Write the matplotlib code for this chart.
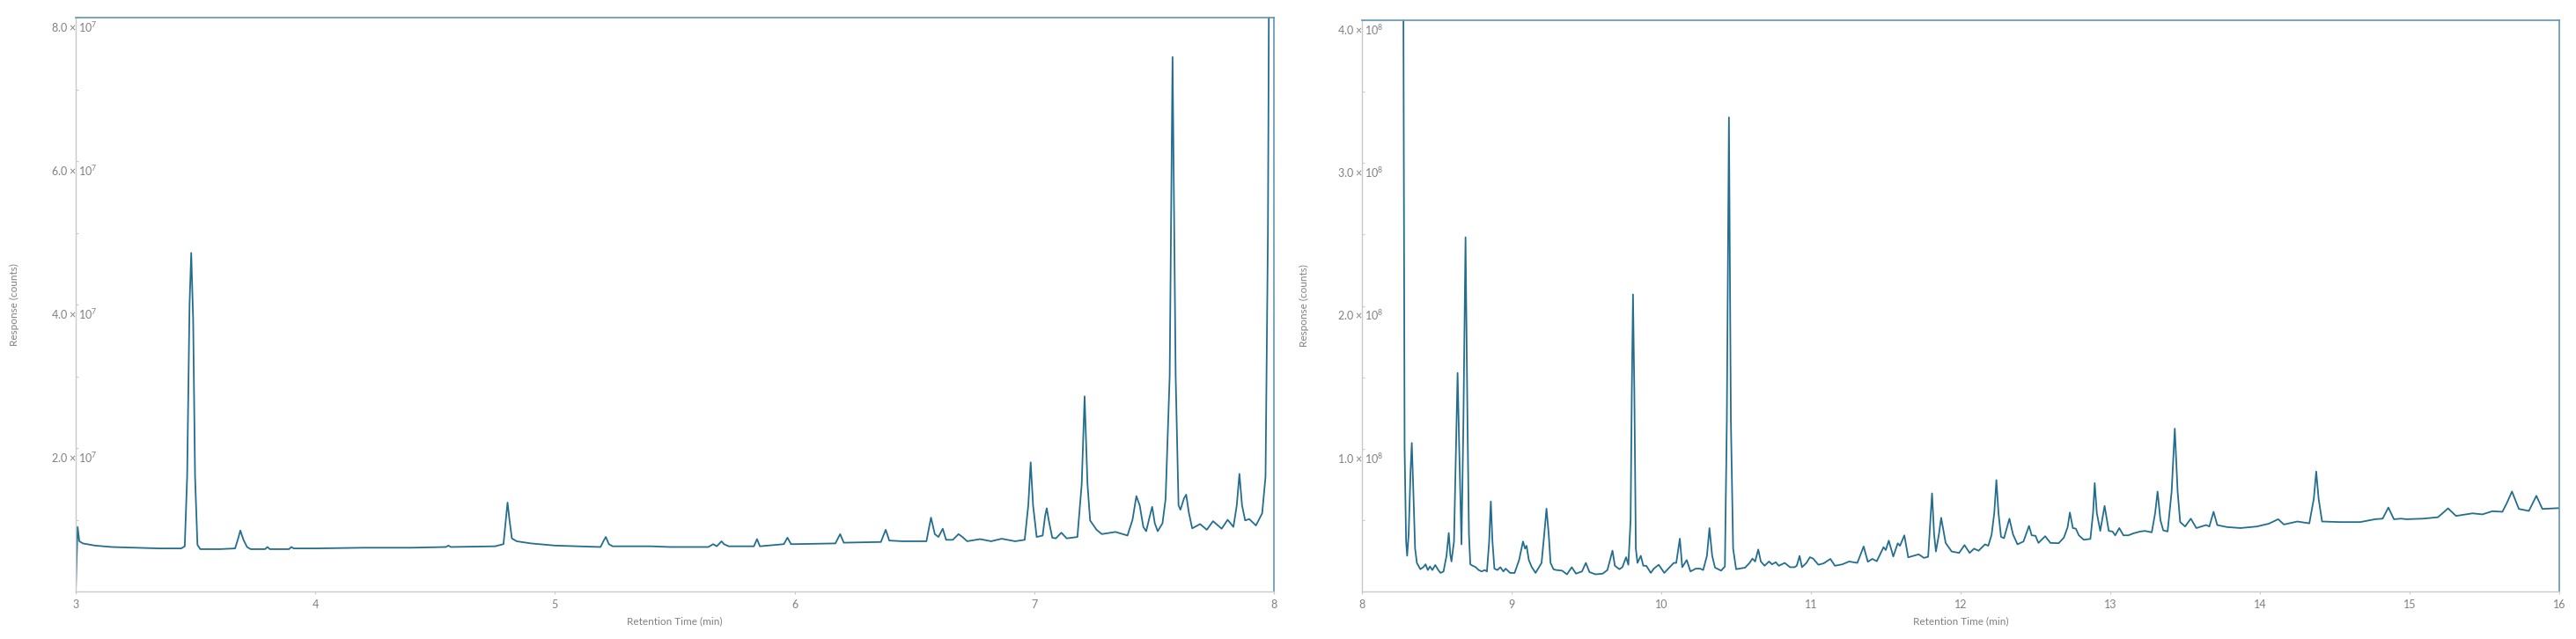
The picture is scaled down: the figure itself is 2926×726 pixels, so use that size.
import matplotlib
matplotlib.use('Agg')
import matplotlib.pyplot as plt
import matplotlib.transforms as mtransforms
import numpy as np

plt.rcParams['font.family'] = ['Lato', 'DejaVu Sans']
plt.rcParams['mathtext.fontset'] = 'custom'
plt.rcParams['mathtext.rm'] = 'Lato'
plt.rcParams['mathtext.it'] = 'Lato:italic'
plt.rcParams['mathtext.bf'] = 'Lato:bold'

# chromatogram 1 : retention time (min), response (x 1e7 counts)
left_trace = [
    (3.000, 0.00), (3.008, 0.90), (3.015, 0.70), (3.030, 0.67), (3.080, 0.64),
    (3.150, 0.62), (3.250, 0.61), (3.350, 0.60), (3.440, 0.60), (3.455, 0.63),
    (3.465, 1.60), (3.475, 4.00), (3.482, 4.72), (3.490, 3.80), (3.498, 1.60),
    (3.508, 0.65), (3.520, 0.59), (3.600, 0.59), (3.665, 0.60), (3.678, 0.74),
    (3.687, 0.85), (3.700, 0.72), (3.715, 0.62), (3.730, 0.59), (3.790, 0.59),
    (3.800, 0.62), (3.810, 0.59), (3.890, 0.59), (3.900, 0.62), (3.910, 0.60),
    (4.000, 0.60), (4.200, 0.61), (4.400, 0.61), (4.545, 0.62), (4.555, 0.64),
    (4.565, 0.62), (4.750, 0.63), (4.785, 0.66), (4.795, 1.00), (4.802, 1.24),
    (4.810, 1.00), (4.820, 0.74), (4.840, 0.70), (4.900, 0.67), (5.000, 0.64),
    (5.190, 0.62), (5.205, 0.72), (5.212, 0.76), (5.225, 0.66), (5.240, 0.63),
    (5.400, 0.63), (5.479, 0.62), (5.640, 0.62), (5.660, 0.66), (5.675, 0.63),
    (5.695, 0.70), (5.705, 0.66), (5.725, 0.63), (5.830, 0.63), (5.843, 0.73),
    (5.855, 0.63), (5.955, 0.66), (5.970, 0.75), (5.985, 0.66), (6.000, 0.66),
    (6.170, 0.67), (6.190, 0.80), (6.205, 0.68), (6.360, 0.69), (6.380, 0.86),
    (6.395, 0.71), (6.450, 0.70), (6.550, 0.70), (6.569, 1.03), (6.585, 0.80),
    (6.600, 0.76), (6.618, 0.875), (6.632, 0.72), (6.660, 0.72), (6.684, 0.80),
    (6.700, 0.76), (6.720, 0.70), (6.774, 0.73), (6.820, 0.70), (6.864, 0.735),
    (6.920, 0.70), (6.960, 0.72), (6.975, 1.20), (6.985, 1.80), (6.995, 1.20),
    (7.010, 0.76), (7.035, 0.78), (7.045, 1.05), (7.052, 1.16), (7.060, 1.00),
    (7.075, 0.75), (7.090, 0.74), (7.113, 0.82), (7.135, 0.74), (7.180, 0.76),
    (7.198, 1.50), (7.210, 2.72), (7.222, 1.50), (7.233, 0.99), (7.260, 0.86),
    (7.282, 0.80), (7.339, 0.83), (7.389, 0.78), (7.410, 1.00), (7.426, 1.33),
    (7.440, 1.20), (7.455, 0.90), (7.467, 0.84), (7.482, 1.05), (7.492, 1.18),
    (7.503, 0.95), (7.515, 0.84), (7.535, 0.95), (7.548, 1.29), (7.565, 3.00),
    (7.577, 7.45), (7.590, 3.00), (7.602, 1.20), (7.610, 1.14), (7.625, 1.30),
    (7.634, 1.35), (7.645, 1.10), (7.659, 0.88), (7.692, 0.94), (7.720, 0.86),
    (7.746, 0.98), (7.782, 0.875), (7.807, 1.00), (7.831, 0.90), (7.845, 1.20),
    (7.856, 1.64), (7.867, 1.20), (7.880, 0.99), (7.897, 1.01), (7.925, 0.92),
    (7.951, 1.09), (7.965, 1.60), (7.975, 5.00), (7.984, 12.0),
]

# chromatogram 2 : retention time (min), response (x 1e8 counts)
right_trace = [
    (8.272, 6.00), (8.285, 1.00), (8.295, 0.35), (8.302, 0.25), (8.312, 0.40),
    (8.325, 0.85), (8.333, 1.04), (8.342, 0.75), (8.355, 0.30), (8.367, 0.20),
    (8.390, 0.156), (8.410, 0.17), (8.425, 0.19), (8.440, 0.15), (8.455, 0.175),
    (8.470, 0.15), (8.490, 0.185), (8.510, 0.15), (8.525, 0.13), (8.545, 0.14),
    (8.565, 0.25), (8.580, 0.41), (8.590, 0.26), (8.598, 0.21), (8.615, 0.35),
    (8.628, 1.00), (8.639, 1.53), (8.650, 1.00), (8.665, 0.33), (8.678, 1.20),
    (8.692, 2.48), (8.705, 1.20), (8.715, 0.40), (8.724, 0.19), (8.740, 0.18),
    (8.760, 0.17), (8.780, 0.15), (8.800, 0.14), (8.820, 0.15), (8.835, 0.14),
    (8.850, 0.35), (8.861, 0.63), (8.872, 0.35), (8.885, 0.16), (8.905, 0.15),
    (8.925, 0.17), (8.945, 0.14), (8.960, 0.16), (8.990, 0.13), (9.020, 0.13),
    (9.050, 0.22), (9.076, 0.35), (9.090, 0.30), (9.100, 0.32), (9.115, 0.22),
    (9.135, 0.17), (9.160, 0.13), (9.200, 0.20), (9.218, 0.40), (9.233, 0.58),
    (9.248, 0.40), (9.260, 0.20), (9.280, 0.155), (9.300, 0.15), (9.337, 0.146),
    (9.370, 0.12), (9.402, 0.17), (9.430, 0.125), (9.470, 0.14), (9.496, 0.20),
    (9.520, 0.136), (9.560, 0.12), (9.609, 0.125), (9.640, 0.15), (9.674, 0.286),
    (9.690, 0.18), (9.720, 0.156), (9.740, 0.17), (9.765, 0.24), (9.780, 0.187),
    (9.795, 0.50), (9.803, 1.40), (9.811, 2.08), (9.820, 1.40), (9.830, 0.30),
    (9.841, 0.20), (9.863, 0.25), (9.880, 0.18), (9.900, 0.18), (9.930, 0.13),
    (9.950, 0.16), (9.983, 0.187), (10.020, 0.13), (10.060, 0.175), (10.083, 0.20),
    (10.100, 0.20), (10.124, 0.37), (10.140, 0.17), (10.170, 0.22), (10.195, 0.14),
    (10.230, 0.16), (10.260, 0.16), (10.280, 0.15), (10.305, 0.25), (10.322, 0.444),
    (10.340, 0.25), (10.359, 0.167), (10.400, 0.146), (10.425, 0.175), (10.438, 1.20),
    (10.452, 3.32), (10.465, 1.20), (10.480, 0.30), (10.500, 0.156), (10.560, 0.167),
    (10.590, 0.20), (10.609, 0.23), (10.627, 0.21), (10.648, 0.294), (10.665, 0.21),
    (10.690, 0.18), (10.720, 0.21), (10.740, 0.19), (10.765, 0.205), (10.785, 0.18),
    (10.825, 0.20), (10.860, 0.17), (10.890, 0.17), (10.905, 0.18), (10.924, 0.249),
    (10.940, 0.17), (10.970, 0.20), (10.993, 0.24), (11.015, 0.23), (11.050, 0.187),
    (11.085, 0.197), (11.130, 0.228), (11.160, 0.18), (11.210, 0.19), (11.255, 0.21),
    (11.310, 0.20), (11.352, 0.315), (11.380, 0.208), (11.410, 0.228), (11.440, 0.212),
    (11.485, 0.31), (11.500, 0.29), (11.520, 0.356), (11.550, 0.245), (11.580, 0.337),
    (11.595, 0.32), (11.624, 0.393), (11.650, 0.239), (11.720, 0.26), (11.755, 0.235),
    (11.783, 0.243), (11.795, 0.45), (11.809, 0.687), (11.823, 0.40), (11.835, 0.28),
    (11.855, 0.40), (11.870, 0.516), (11.900, 0.34), (11.940, 0.28), (11.990, 0.27),
    (12.026, 0.325), (12.060, 0.27), (12.090, 0.30), (12.120, 0.285), (12.163, 0.33),
    (12.185, 0.32), (12.207, 0.397), (12.225, 0.55), (12.239, 0.78), (12.253, 0.55),
    (12.270, 0.383), (12.290, 0.373), (12.326, 0.51), (12.350, 0.40), (12.380, 0.33),
    (12.420, 0.35), (12.457, 0.459), (12.475, 0.393), (12.500, 0.39), (12.520, 0.34),
    (12.565, 0.387), (12.600, 0.34), (12.655, 0.338), (12.690, 0.377), (12.715, 0.45),
    (12.730, 0.553), (12.750, 0.444), (12.770, 0.44), (12.790, 0.393), (12.823, 0.362),
    (12.867, 0.368), (12.885, 0.55), (12.896, 0.759), (12.910, 0.55), (12.933, 0.424),
    (12.962, 0.599), (12.990, 0.424), (13.015, 0.42), (13.033, 0.393), (13.060, 0.444),
    (13.088, 0.393), (13.120, 0.393), (13.155, 0.407), (13.200, 0.42), (13.232, 0.424),
    (13.277, 0.414), (13.300, 0.55), (13.316, 0.70), (13.335, 0.50), (13.354, 0.428),
    (13.383, 0.42), (13.410, 0.70), (13.431, 1.14), (13.450, 0.70), (13.467, 0.486),
    (13.500, 0.455), (13.538, 0.51), (13.575, 0.444), (13.640, 0.465), (13.662, 0.455),
    (13.690, 0.558), (13.715, 0.465), (13.780, 0.451), (13.870, 0.444), (13.980, 0.455),
    (14.060, 0.475), (14.122, 0.506), (14.160, 0.469), (14.250, 0.49), (14.330, 0.477),
    (14.360, 0.65), (14.376, 0.84), (14.392, 0.65), (14.415, 0.49), (14.536, 0.486),
    (14.670, 0.486), (14.770, 0.506), (14.820, 0.51), (14.858, 0.588), (14.895, 0.506),
    (14.943, 0.51), (14.980, 0.506), (15.090, 0.51), (15.190, 0.52), (15.257, 0.582),
    (15.310, 0.529), (15.420, 0.547), (15.487, 0.54), (15.553, 0.562), (15.620, 0.558),
    (15.650, 0.62), (15.684, 0.70), (15.730, 0.578), (15.797, 0.564), (15.847, 0.67),
    (15.887, 0.578), (16.000, 0.584),
]

left_xticks = [3, 4, 5, 6, 7, 8]
right_xticks = [8, 9, 10, 11, 12, 13, 14, 15, 16]
left_ylabels = {2e7: '2.0 × 10$^{7}$', 4e7: '4.0 × 10$^{7}$', 6e7: '6.0 × 10$^{7}$', 8e7: '8.0 × 10$^{7}$'}
right_ylabels = {1e8: '1.0 × 10$^{8}$', 2e8: '2.0 × 10$^{8}$', 3e8: '3.0 × 10$^{8}$', 4e8: '4.0 × 10$^{8}$'}

line_col = '#236d8e'
frame_col = '#5f96b3'
grey = '#c9c9c9'
text_col = '#808080'

fig = plt.figure(figsize=(29.26, 7.26), dpi=100)
ax1 = fig.add_axes([86 / 2926, 54 / 726, 1361 / 2926, 652 / 726])
ax2 = fig.add_axes([1547 / 2926, 54 / 726, 1360 / 2926, 649 / 726])

panels = [
    (ax1, left_trace, 1e7, (3, 8), (0, 8e7), left_xticks, np.arange(0, 8.1e7, 1e7), left_ylabels),
    (ax2, right_trace, 1e8, (8, 16), (0, 4e8), right_xticks, np.arange(0, 4.1e8, 0.5e8), right_ylabels),
]

for ax, trace, scale, xl, yl, xt, yt, ylabs in panels:
    t = np.array([p[0] for p in trace])
    r = np.array([p[1] for p in trace]) * scale
    ax.plot(t, r, color=line_col, lw=1.3, solid_joinstyle='round')
    ax.set_xlim(*xl)
    ax.set_ylim(*yl)
    ax.set_xticks(xt)
    ax.set_yticks(yt)
    ax.tick_params(axis='x', direction='out', length=2.5, width=0.8, color=grey,
                   labelcolor=text_col, labelsize=9, pad=4)
    ax.tick_params(axis='y', direction='in', length=2.5, width=0.8, color=grey, labelleft=False)
    for s in ['left', 'bottom']:
        ax.spines[s].set_color(grey)
        ax.spines[s].set_linewidth(1.0)
    for s in ['top', 'right']:
        ax.spines[s].set_color(frame_col)
        ax.spines[s].set_linewidth(1.2)
    # y labels sit just under their tick, straddling the axis line
    trans = mtransforms.offset_copy(ax.get_yaxis_transform(), fig=fig, x=24, y=-11, units='dots')
    for val, lab in ylabs.items():
        ax.text(0, val, lab, transform=trans, ha='right', va='center',
                fontsize=9, color=text_col)
    ax.set_xlabel('Retention Time (min)', fontsize=8.5, color=text_col)
    ax.set_ylabel('Response (counts)', fontsize=8.5, color=text_col)
    ax.xaxis.set_label_coords(0.5, -0.043)

ax1.yaxis.set_label_coords(-0.047, 0.5)
ax2.yaxis.set_label_coords(-0.044, 0.5)

fig.savefig('out.png', dpi=100)
